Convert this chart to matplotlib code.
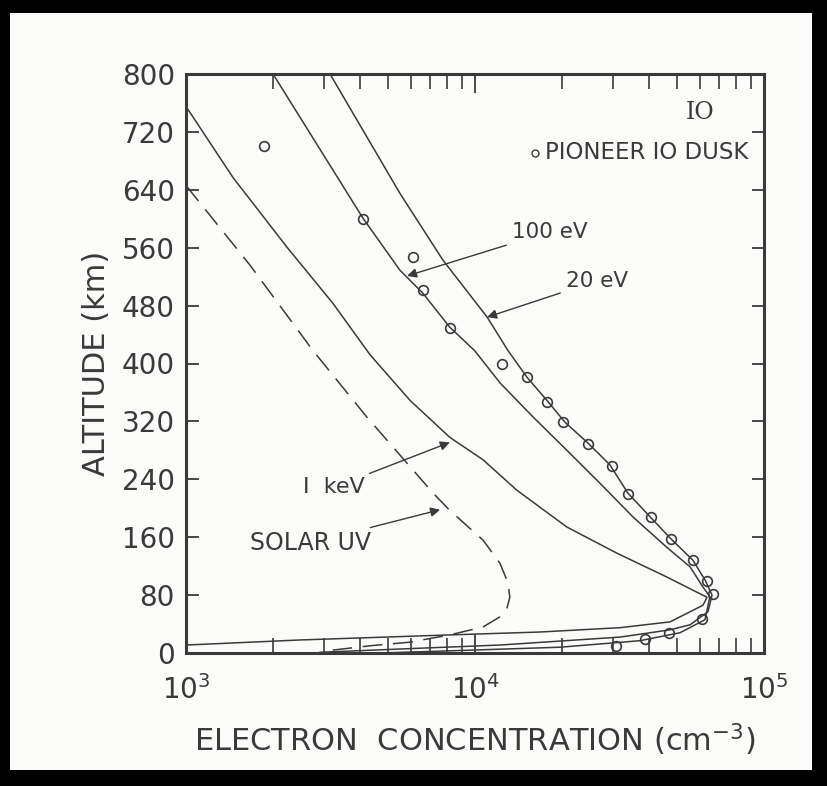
import numpy as np
import matplotlib.pyplot as plt
from matplotlib.patches import Rectangle

# ---- data (electron concentration cm^-3, altitude km) ----
ev20_n = [3150, 5500, 7740, 11020, 13000, 15130, 17740, 20470, 24600, 29300, 33800,
          40400, 47300, 56800, 62500, 66100, 64000, 55500, 47300, 31800, 12200, 5500, 2910]
ev20_z = [800, 635, 543, 464, 418, 381, 349, 319, 290, 260, 221,
          188, 159, 128, 101, 80, 57, 39, 32, 22, 11, 5.5, 1]

ev100_n = [2000, 4093, 5495, 6607, 8185, 9960, 12220, 15890, 20800, 27000, 35200,
           46100, 55500, 61500, 65000, 62500, 51200, 37200, 19700, 8180, 4690]
ev100_z = [800, 601, 529, 497, 450, 418, 373, 326, 280, 235, 188,
           146, 119, 91, 78, 46, 28, 17, 8, 3, 0]

kev1_n = [1016, 1454, 2233, 3226, 4335, 5960, 8180, 10660, 13950, 20800, 30950,
          46100, 63500, 61500, 47300, 31800, 16800, 8180, 2478, 1000]
kev1_z = [751, 657, 561, 483, 412, 349, 298, 267, 225, 174, 138,
          105, 77, 66, 43, 35, 29, 25, 18, 11]

uv_n = [1000, 1664, 2748, 4224, 7160, 8180, 10660, 12200, 13000, 13200, 12900,
        12200, 10660, 8180, 5960, 4340, 3220]
uv_z = [646, 536, 418, 326, 221, 197, 156, 124, 97, 77, 62,
        50, 36, 25, 15, 10, 4]

pioneer_n = [1862, 4093, 6095, 6607, 8185, 12390, 15130, 17750, 20150, 24590, 29780,
             33820, 40620, 47650, 56780, 63490, 66620, 61000, 46880, 38730, 30760]
pioneer_z = [700, 600, 547, 501, 449, 400, 381, 347, 319, 289, 258,
             220, 188, 157, 128, 99, 81, 47, 28, 19, 10]

y_ticks = list(range(0, 801, 80))

ink = '#3a3a3a'
plt.rcParams['font.family'] = ['DejaVu Sans']

fig = plt.figure(figsize=(8.27, 7.86), dpi=100)
fig.patch.set_facecolor('black')
# paper area inside the black scan border
fig.patches.append(Rectangle((10 / 827, 16 / 786), 802 / 827, 757 / 786,
                             transform=fig.transFigure, facecolor='#fbfbfa',
                             edgecolor='none', zorder=-10))

ax = fig.add_axes([186 / 827, 1 - 653 / 786, 578 / 827, 579 / 786])
ax.set_facecolor('#fbfbfa')

ax.plot(ev20_n, ev20_z, color=ink, lw=1.1)
ax.plot(ev100_n, ev100_z, color=ink, lw=1.1)
ax.plot(kev1_n, kev1_z, color=ink, lw=1.1)
ax.plot(uv_n, uv_z, color=ink, lw=1.1, dashes=(13, 7))
ax.plot(pioneer_n, pioneer_z, 'o', mfc='none', mec=ink, mew=1.2, ms=7, clip_on=False)

ax.set_xscale('log')
ax.set_xlim(1e3, 1e5)
ax.set_ylim(0, 800)
ax.set_yticks(y_ticks)
ax.set_xticks([1e3, 1e4, 1e5])
ax.set_xticklabels(['$\\mathregular{10^3}$', '$\\mathregular{10^4}$', '$\\mathregular{10^5}$'])

for s in ax.spines.values():
    s.set_linewidth(2.2)
    s.set_color(ink)
ax.tick_params(axis='both', which='major', direction='in', length=9, width=1.3,
               color=ink, labelsize=20, labelcolor=ink, top=True, right=True)
ax.tick_params(axis='x', which='major', length=14, pad=16)
ax.tick_params(axis='x', which='minor', direction='in', length=11, width=1.2,
               color=ink, top=True)
ax.tick_params(axis='y', which='major', pad=8)

ax.set_ylabel('ALTITUDE (km)', fontsize=22, color=ink, labelpad=8)
ax.set_xlabel('ELECTRON  CONCENTRATION (cm$^{-3}$)', fontsize=22, color=ink, labelpad=12)

# labels and arrows
ax.text(60100, 747, 'IO', fontsize=17, color=ink, ha='center', va='center',
        family='DejaVu Serif')
ax.plot([16150], [691], 'o', mfc='none', mec=ink, mew=1, ms=5)
ax.text(17500, 691, 'PIONEER IO DUSK', fontsize=16.5, color=ink, ha='left', va='center')

arrow = dict(arrowstyle='-|>', color=ink, lw=1.0, mutation_scale=14, shrinkA=2, shrinkB=0)
ax.annotate('100 eV', xy=(5820, 521), xytext=(13400, 582), fontsize=15.5, color=ink,
            ha='left', va='center', arrowprops=arrow)
ax.annotate('20 eV', xy=(11010, 464), xytext=(20600, 514), fontsize=15.5, color=ink,
            ha='left', va='center', arrowprops=arrow)
ax.annotate('I  keV', xy=(8180, 291), xytext=(4150, 229), fontsize=16, color=ink,
            ha='right', va='center', arrowprops=arrow)
ax.annotate('SOLAR UV', xy=(7570, 198), xytext=(4350, 152), fontsize=17, color=ink,
            ha='right', va='center', arrowprops=arrow)

fig.savefig('out.png', dpi=100, facecolor=fig.get_facecolor())
